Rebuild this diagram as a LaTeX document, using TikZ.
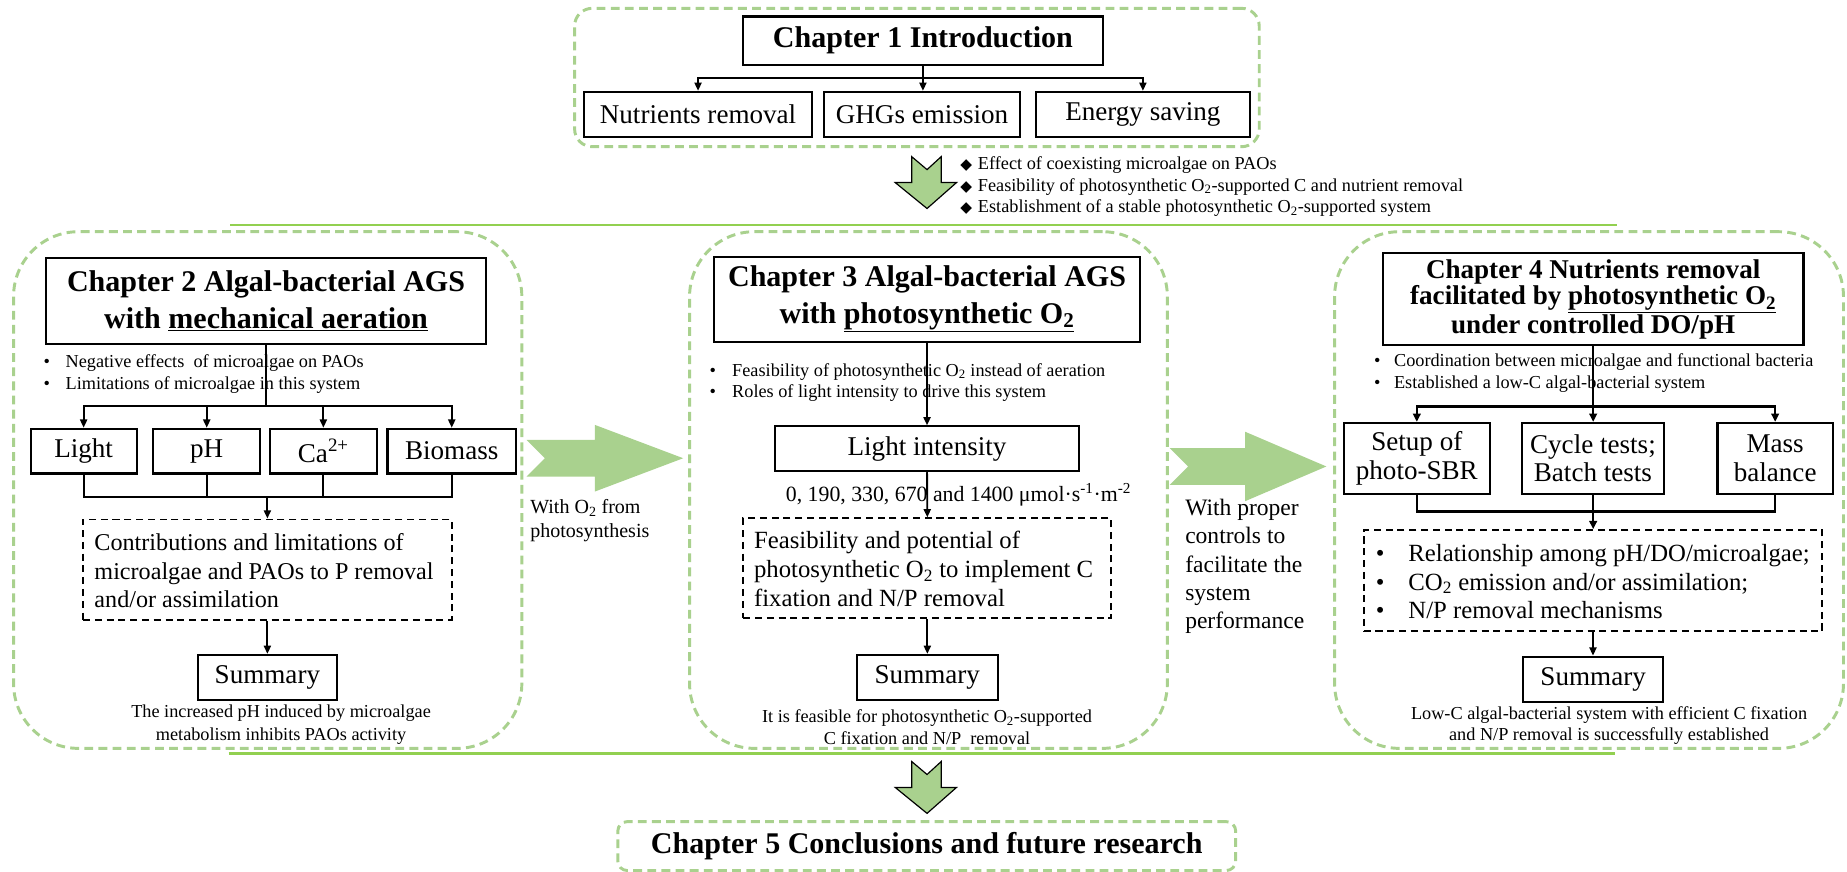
\documentclass[tikz,border=0pt]{standalone}
\usepackage{fontspec}
\setmainfont{Liberation Serif}
\newfontfamily\dejavu{DejaVu Sans}
\usetikzlibrary{arrows.meta}
\definecolor{gdash}{RGB}{169,209,142}
\definecolor{gline}{RGB}{146,208,80}
\definecolor{garr}{RGB}{169,209,142}
\newcommand\myfs[2]{\fontsize{#1pt}{#2pt}\selectfont}
\newcommand\dia{\makebox[15pt][l]{\dejavu\myfs{13}{18.3}◆}}
\begin{document}
\begin{tikzpicture}[x=1pt,y=-1pt,
  gbox/.style={draw=gdash, line width=2.5pt, dash pattern=on 7.5pt off 4.5pt, rounded corners=#1, inner sep=0pt},
  bx/.style={draw=black, line width=1.8pt, inner sep=0pt, align=center},
  dbx/.style={draw=black, line width=1.6pt, dash pattern=on 6pt off 4pt, inner sep=0pt},
  conn/.style={draw=black, line width=1.6pt},
  arr/.style={conn, -{Triangle[length=7pt,width=6pt]}},
  conn4/.style={draw=black, line width=2.2pt},
  arr4/.style={conn4, -{Triangle[length=7pt,width=6.5pt]}},
  gline/.style={draw=gline, line width=2.5pt},
  garrow/.style={fill=garr, draw=none},
  gdown/.style={fill=garr, draw=black, line width=1pt, line join=miter},
  txt/.style={inner sep=0pt, align=left, anchor=west}]
\useasboundingbox (0,0) rectangle (1568,740);

% ---------- Chapter 1 ----------
\node[gbox=15pt, minimum width=581.2pt, minimum height=117.5pt] (o1) at (778.4,65.8) {};
\node[bx, minimum width=305pt, minimum height=41pt, font={\myfs{25.5}{30}\bfseries}] (t1) at (783.5,34.5) {Chapter 1 Introduction};
\node[bx, minimum width=194pt, minimum height=38pt, font={\myfs{23}{27}}] (n1) at (592.6,97) {Nutrients removal};
\node[bx, minimum width=166.5pt, minimum height=38pt, font={\myfs{23}{27}}] (n2) at (782.75,97) {GHGs emission};
\node[bx, minimum width=181.5pt, minimum height=38pt, font={\myfs{23}{27}}] (n3) at (970.25,97) {Energy saving};
\coordinate (j1) at (783.5,66.5);
\draw[conn] (t1.south) -- (j1);
\draw[arr] (j1) -| (n1.north);
\draw[arr] (j1) -| (n3.north);
\draw[arr] (j1) -- (j1 |- n2.north);

\filldraw[gdown] (774,133) -- (787,144) -- (799,133) -- (799,155) -- (812,155) -- (787,177) -- (760,155) -- (774,155) -- cycle;
\node[txt, font={\myfs{15.5}{18.3}}] (obj) at (815,158.5) {\dia Effect of coexisting microalgae on PAOs\\\dia Feasibility of photosynthetic O\textsubscript{2}-supported C and nutrient removal\\\dia Establishment of a stable photosynthetic O\textsubscript{2}-supported system};

% green rules
\coordinate (g1a) at (195.5,191); \coordinate (g1b) at (1373,191);
\coordinate (g2a) at (194,639.5); \coordinate (g2b) at (1371,639.5);
\draw[gline] (g1a) -- (g1b);
\draw[gline] (g2a) -- (g2b);

% ---------- Chapter 2 ----------
\node[gbox=55pt, minimum width=431.5pt, minimum height=438.6pt] (o2) at (227.25,416) {};
\node[bx, minimum width=373pt, minimum height=72.7pt, font={\myfs{25.5}{31}\bfseries}] (t2) at (225.85,255.65) {Chapter 2 Algal-bacterial AGS\\with \underline{mechanical aeration}};
\node[txt, font={\myfs{15.5}{19}}] (bu2) at (36.8,317.5) {\makebox[18.7pt][l]{•}Negative effects\ \ of microalgae on PAOs\\\makebox[18.7pt][l]{•}Limitations of microalgae in this system};
\node[bx, minimum width=90pt, minimum height=38pt, font={\myfs{23}{27}}] (b1) at (71,383) {Light};
\node[bx, minimum width=91pt, minimum height=38pt, font={\myfs{23}{27}}] (b2) at (175.5,383) {pH};
\node[bx, minimum width=91pt, minimum height=38pt, font={\myfs{23}{27}}] (b3) at (274.5,383) {Ca\textsuperscript{2+}};
\node[bx, minimum width=109pt, minimum height=38pt, font={\myfs{23}{27}}] (b4) at (383.5,383) {Biomass};
\coordinate (c2a) at (225.85,345);
\draw[conn] (t2.south) -- (c2a);
\draw[arr] (c2a) -| (b1.north);
\draw[arr] (c2a) -| (b4.north);
\draw[arr] (b2.north |- c2a) -- (b2.north);
\draw[arr] (b3.north |- c2a) -- (b3.north);
\node[dbx, minimum width=313pt, minimum height=85pt] (d2) at (227,483.5) {};
\node[txt, font={\myfs{20.5}{24.5}}] (d2t) at (80,484.5) {Contributions and limitations of\\microalgae and PAOs to P removal\\and/or assimilation};
\coordinate (c2b) at (227,421.6);
\draw[conn] (b1.south) |- (c2b);
\draw[conn] (b4.south) |- (c2b);
\draw[conn] (b2.south) -- (b2.south |- c2b);
\draw[conn] (b3.south) -- (b3.south |- c2b);
\draw[arr] (c2b) -- (d2.north);
\node[bx, minimum width=118pt, minimum height=38pt, font={\myfs{23}{27}}] (s2) at (227,575) {Summary};
\draw[arr] (d2.south) -- (s2.north);
\node[inner sep=0pt, align=center, font={\myfs{15.5}{19.5}}] (s2t) at (238.6,615) {The increased pH induced by microalgae\\metabolism inhibits PAOs activity};

% arrow 1
\fill[garrow] (447,373.4) -- (505,373.4) -- (505,360.7) -- (580,389) -- (505,417.3) -- (505,404.6) -- (447,404.6) -- (462.6,389) -- cycle;
\node[txt, font={\myfs{17}{21}}] (a1t) at (450,442) {With O\textsubscript{2} from\\photosynthesis};

% ---------- Chapter 3 ----------
\node[gbox=55pt, minimum width=405.6pt, minimum height=438.6pt] (o3) at (788.2,416) {};
\node[bx, minimum width=362pt, minimum height=72pt, font={\myfs{25.5}{31}\bfseries}] (t3) at (787,254) {Chapter 3 Algal-bacterial AGS\\with \underline{photosynthetic O\textsubscript{2}}};
\node[txt, font={\myfs{15.5}{18.5}}] (bu3) at (602.3,324.75) {\makebox[19.1pt][l]{•}Feasibility of photosynthetic O\textsubscript{2} instead of aeration\\\makebox[19.1pt][l]{•}Roles of light intensity to drive this system};
\node[bx, minimum width=258pt, minimum height=38pt, font={\myfs{23}{27}}] (l3) at (787,381) {Light intensity};
\draw[arr] (t3.south) -- (l3.north);
\node[txt, font={\myfs{18.5}{22}}] (nums) at (667,420) {0, 190, 330, 670 and 1400 μmol·s\textsuperscript{-1}·m\textsuperscript{-2}};
\node[dbx, minimum width=312.5pt, minimum height=85pt] (d3) at (787.25,482.5) {};
\draw[arr] (l3.south) -- (d3.north);
\node[txt, font={\myfs{21}{25}}] (d3t) at (640,483) {Feasibility and potential of\\photosynthetic O\textsubscript{2} to implement C\\fixation and N/P removal};
\node[bx, minimum width=119.5pt, minimum height=38pt, font={\myfs{23}{27}}] (s3) at (787.25,575) {Summary};
\draw[arr] (d3.south) -- (s3.north);
\node[inner sep=0pt, align=center, font={\myfs{15.5}{19}}] (s3t) at (787,617.5) {It is feasible for photosynthetic O\textsubscript{2}-supported\\C fixation and N/P\ \ removal};

% arrow 2
\fill[garrow] (993,380.4) -- (1057,380.4) -- (1057,366.5) -- (1126,396) -- (1057,425.5) -- (1057,411.6) -- (993,411.6) -- (1008.6,396) -- cycle;
\node[txt, font={\myfs{20}{24}}] (a2t) at (1006,481) {With proper\\controls to\\facilitate the\\system\\performance};

% ---------- Chapter 4 ----------
\node[gbox=55pt, minimum width=432pt, minimum height=438.6pt] (o4) at (1349,416) {};
\node[bx, minimum width=357pt, minimum height=78pt, font={\myfs{23}{22.5}\bfseries}] (t4) at (1352.5,254) {Chapter 4 Nutrients removal\\facilitated by \underline{photosynthetic O\textsubscript{2}}\\under controlled DO/pH};
\node[txt, font={\myfs{15.5}{18.5}}] (bu4) at (1166.3,317) {\makebox[17pt][l]{•}Coordination between microalgae and functional bacteria\\\makebox[17pt][l]{•}Established a low-C algal-bacterial system};
\node[bx, minimum width=124.4pt, minimum height=60pt, font={\myfs{23}{24}}] (e1) at (1202.8,389) {Setup of\\photo-SBR};
\node[bx, minimum width=120.6pt, minimum height=60pt, font={\myfs{23}{24}}] (e2) at (1352.3,389) {Cycle tests;\\Batch tests};
\node[bx, minimum width=98pt, minimum height=60pt, font={\myfs{23}{24}}] (e3) at (1507,389) {Mass\\balance};
\coordinate (c4a) at (1352.5,345);
\draw[conn4] (t4.south) -- (c4a);
\draw[arr4] (c4a) -| (e1.north);
\draw[arr4] (c4a) -| (e3.north);
\draw[arr4] (c4a) -- (c4a |- e2.north);
\coordinate (c4b) at (1352.5,434);
\draw[conn4] (e1.south) |- (c4b);
\draw[conn4] (e3.south) |- (c4b);
\draw[conn4] (e2.south) -- (e2.south |- c4b);
\node[dbx, minimum width=389.3pt, minimum height=86pt] (d4) at (1352.35,493) {};
\draw[arr4] (c4b) -- (c4b |- d4.north);
\node[txt, font={\myfs{21}{24}}] (d4t) at (1167.9,493.8) {\makebox[27.6pt][l]{•}Relationship among pH/DO/microalgae;\\\makebox[27.6pt][l]{•}CO\textsubscript{2} emission and/or assimilation;\\\makebox[27.6pt][l]{•}N/P removal mechanisms};
\node[bx, minimum width=119pt, minimum height=38.2pt, font={\myfs{23}{27}}] (s4) at (1352.5,576.6) {Summary};
\draw[arr] (d4.south) -- (d4.south |- s4.north);
\node[inner sep=0pt, align=center, font={\myfs{15.5}{18.5}}] (s4t) at (1366,616) {Low-C algal-bacterial system with efficient C fixation\\and N/P removal is successfully established};

% ---------- Chapter 5 ----------
\filldraw[gdown] (774,646.5) -- (787,657.5) -- (799,646.5) -- (799,668.5) -- (812,668.5) -- (787,690.5) -- (760,668.5) -- (774,668.5) -- cycle;
\node[gbox=8pt, minimum width=524.5pt, minimum height=41.5pt, font={\myfs{25.5}{30}\bfseries}] (o5) at (786.75,718.25) {Chapter 5 Conclusions and future research};
\end{tikzpicture}
\end{document}
